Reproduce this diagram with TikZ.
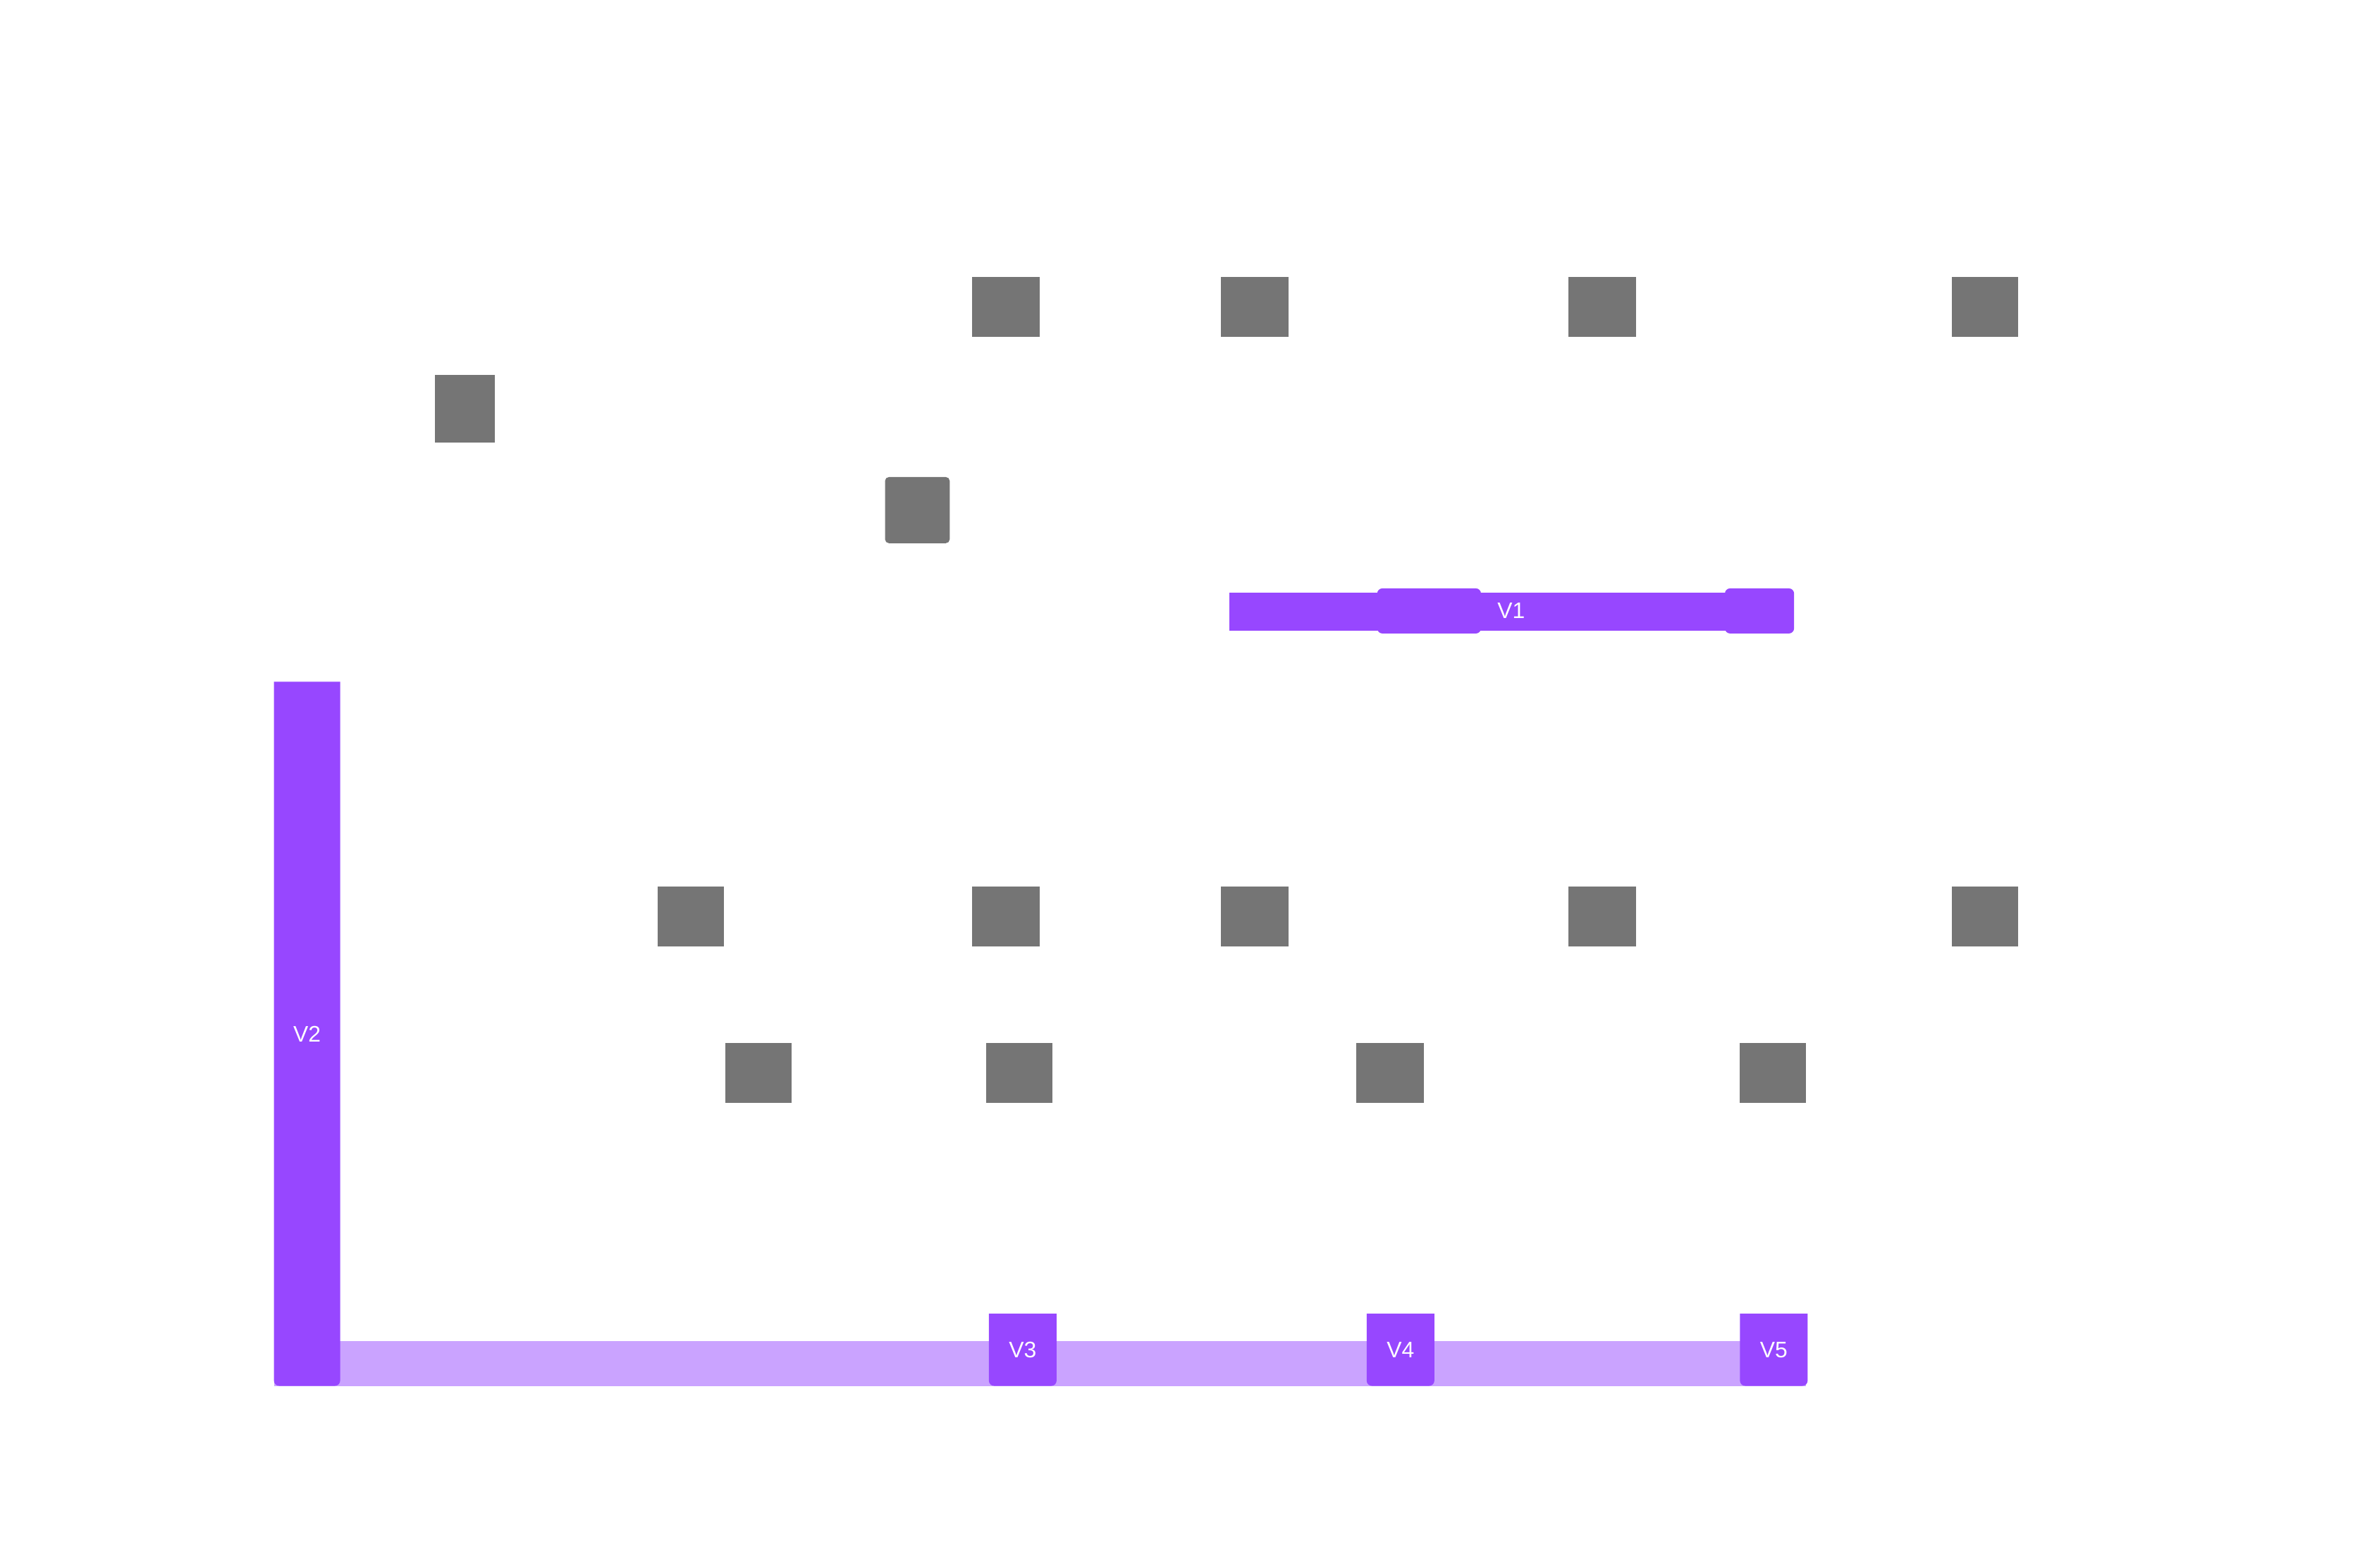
\documentclass[tikz,border=0pt]{standalone}
\usepackage{fontspec}
\setmainfont{Liberation Sans}
\definecolor{via}{HTML}{9747FF}
\definecolor{vialight}{HTML}{CAA3FF}
\definecolor{pin}{HTML}{757575}

\begin{document}
\begin{tikzpicture}[x=0.02cm,y=-0.02cm,
    pad/.style={fill=pin},
    rail/.style={fill=via,rounded corners=2},
    tag/.style={text=white,font=\fontsize{8.5}{10}\selectfont,inner sep=0pt}]
  \useasboundingbox (0,0) rectangle (1568,1042);
  % pads
  \foreach \x/\y/\w/\h in {646/184/45/40,811/184/45/40,1042/184/45/40,1297/184/44/40,
      289/249/40/45,
      437/589/44/40,646/589/45/40,811/589/45/40,1042/589/45/40,1297/589/44/40,
      482/693/44/40,655/693/44/40,901/693/45/40,1156/693/44/40}
    \fill[pad] (\x,\y) rectangle ++(\w,\h);
  \fill[pad,rounded corners=1.5] (588,317) rectangle ++(43,44);
  % bottom track and vias
  \fill[vialight] (182,891) rectangle (1200,921);
  \fill[rail] (182,453) [sharp corners] -- (226,453) [rounded corners=2] -- (226,921) -- (182,921) [sharp corners] -- cycle;
  \node[tag] (v2) at (204,687) {V2};
  \foreach \x/\n in {657/3,908/4,1156/5}
    {\fill[rail] (\x,873) [sharp corners] -- ++(45,0) [rounded corners=2] -- ++(0,48) -- ++(-45,0) [sharp corners] -- cycle;
     \node[tag] (v\n) at (\x+22.5,897) {V\n};}
  % top via
  \fill[via] (817,394) rectangle (1180,419);
  \fill[rail] (915,391) rectangle (984,421);
  \fill[rail] (1146,391) rectangle (1192,421);
  \node[tag] (v1) at (1004,406) {V1};
\end{tikzpicture}
\end{document}
